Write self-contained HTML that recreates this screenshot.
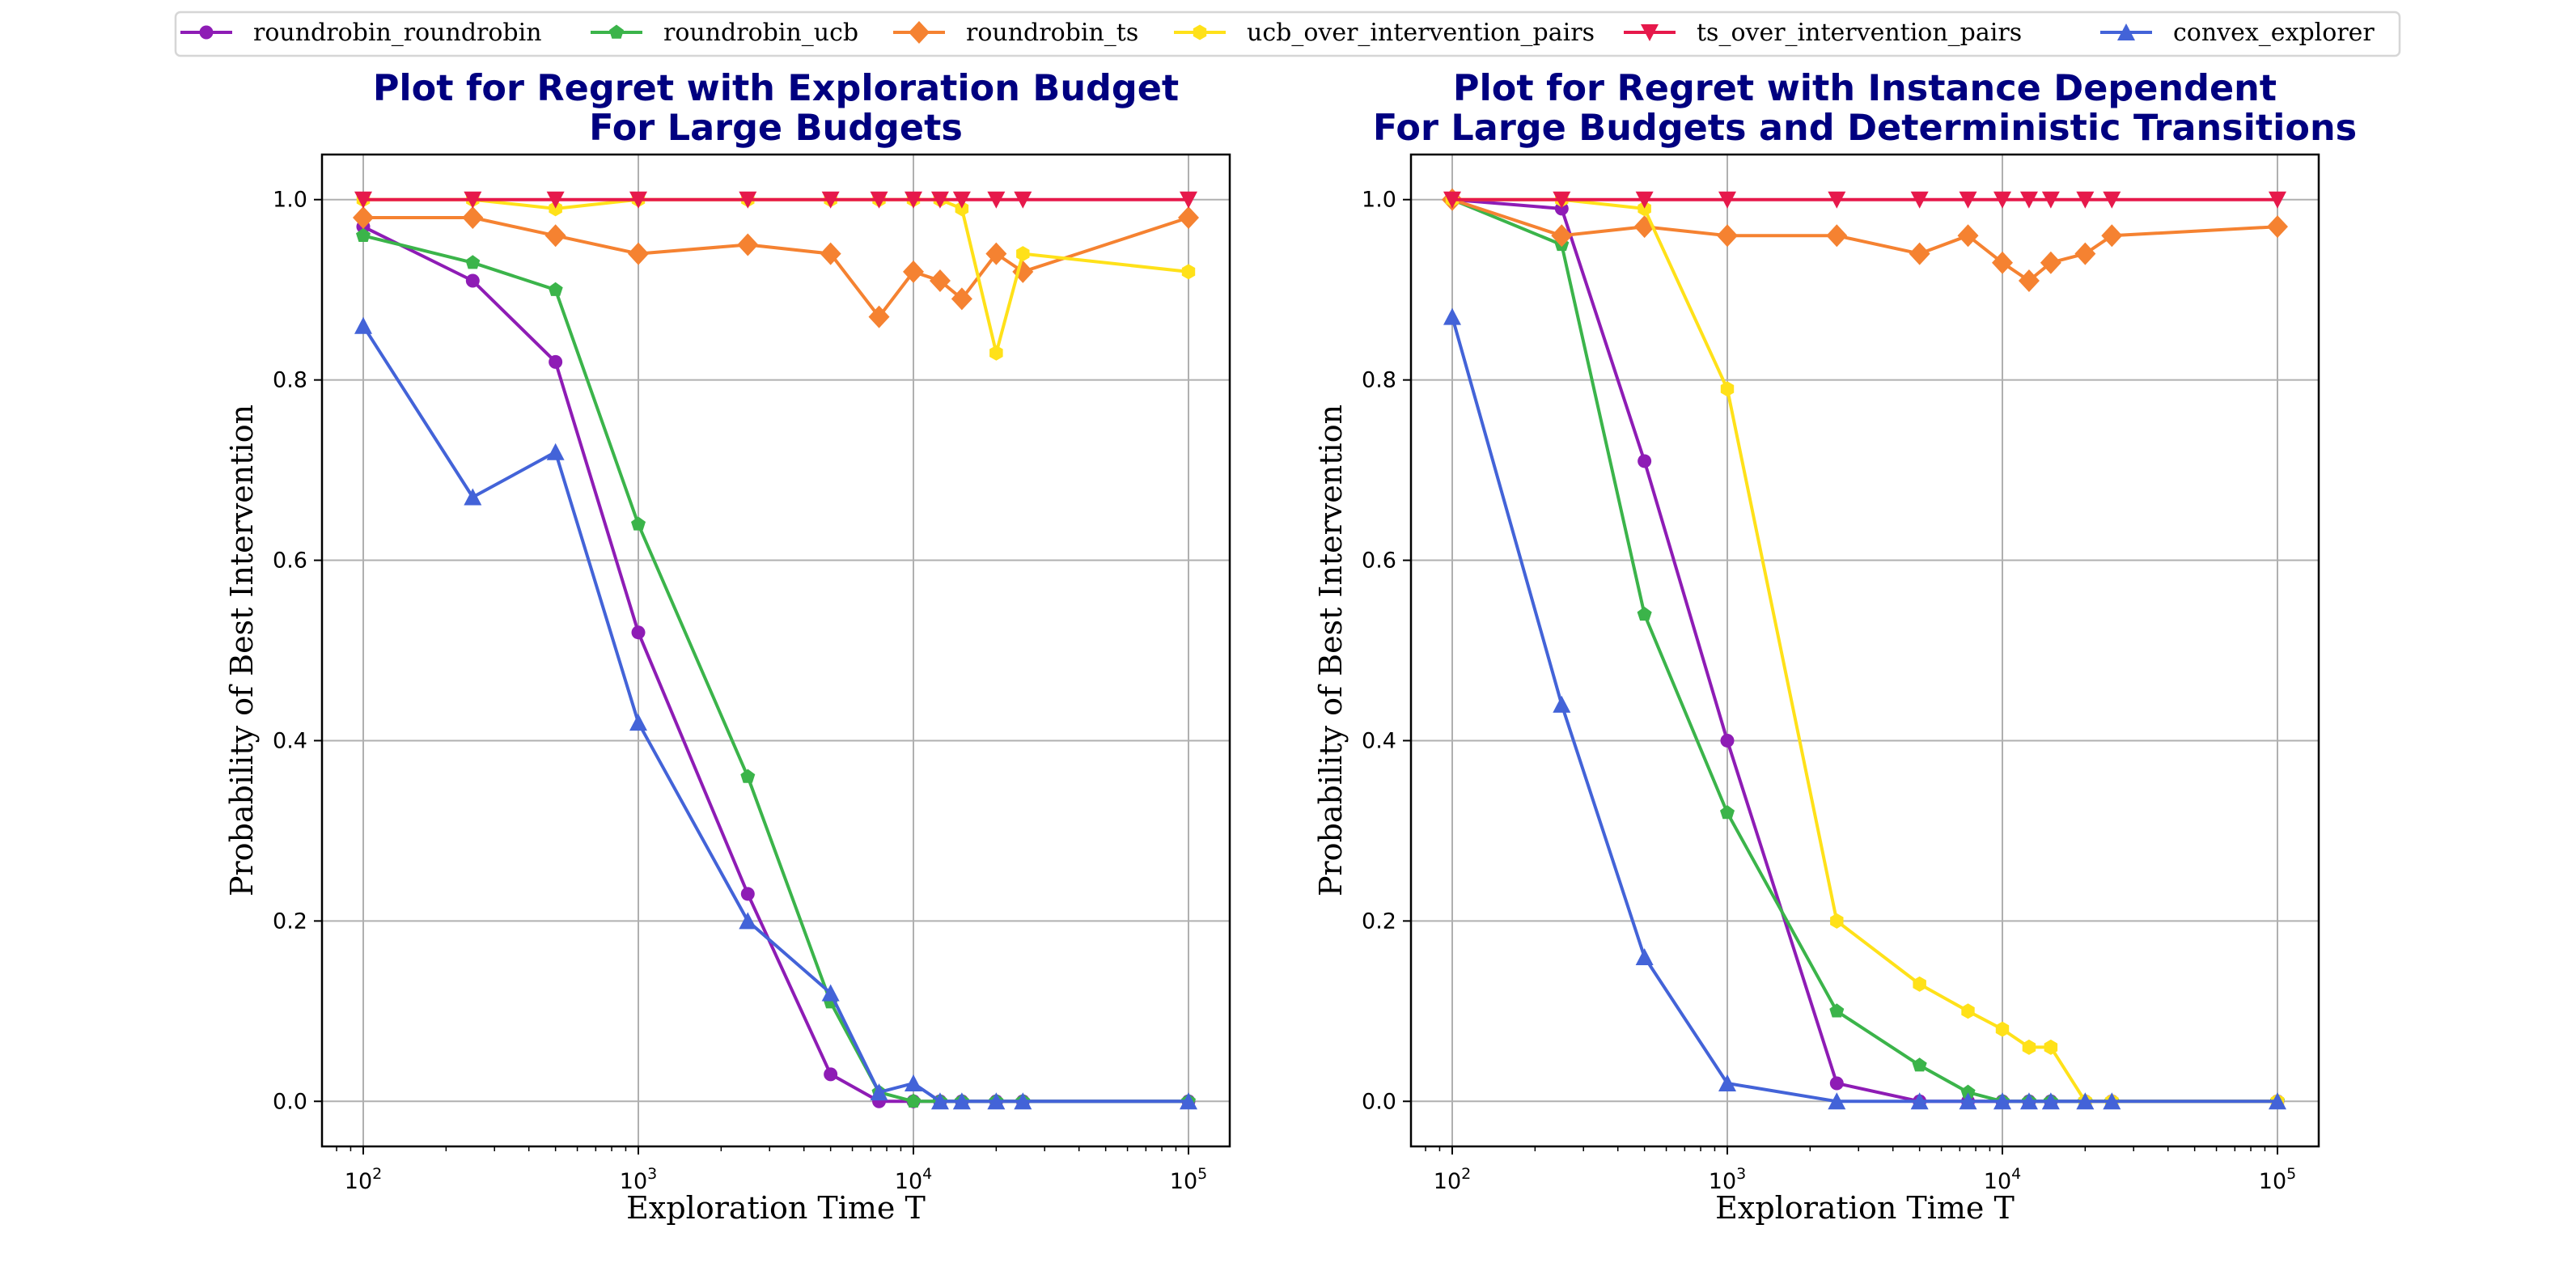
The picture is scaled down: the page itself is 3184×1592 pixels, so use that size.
<!DOCTYPE html>
<html><head><meta charset="utf-8"><style>
html,body{margin:0;padding:0;background:#fff;width:3184px;height:1592px;overflow:hidden}
svg{display:block}
</style></head><body>
<svg id="fig" width="3184" height="1592" xmlns="http://www.w3.org/2000/svg"></svg>
<script>
const xValues=[100,250,500,1000,2500,5000,7500,10000,12500,15000,20000,25000,100000];
const seriesNames=["roundrobin_roundrobin","roundrobin_ucb","roundrobin_ts","ucb_over_intervention_pairs","ts_over_intervention_pairs","convex_explorer"];
const leftRR=[.97,.91,.82,.52,.23,.03,0,0,0,0,0,0,0];
const leftUCB=[.96,.93,.90,.64,.36,.11,.01,0,0,0,0,0,0];
const leftTS=[.98,.98,.96,.94,.95,.94,.87,.92,.91,.89,.94,.92,.98];
const leftUCBPairs=[1,1,.99,1,1,1,1,1,1,.99,.83,.94,.92];
const leftTSPairs=[1,1,1,1,1,1,1,1,1,1,1,1,1];
const leftConvex=[.86,.67,.72,.42,.20,.12,.01,.02,0,0,0,0,0];
const rightRR=[1,.99,.71,.40,.02,0,0,0,0,0,0,0,0];
const rightUCB=[1,.95,.54,.32,.10,.04,.01,0,0,0,0,0,0];
const rightTS=[1,.96,.97,.96,.96,.94,.96,.93,.91,.93,.94,.96,.97];
const rightUCBPairs=[1,1,.99,.79,.20,.13,.10,.08,.06,.06,0,0,0];
const rightTSPairs=[1,1,1,1,1,1,1,1,1,1,1,1,1];
const rightConvex=[.87,.44,.16,.02,0,0,0,0,0,0,0,0,0];
const yTicks=[0,0.2,0.4,0.6,0.8,1.0];
const yTickLabels=["0.0","0.2","0.4","0.6","0.8","1.0"];
const xTickExps=[2,3,4,5];
const titles=[["Plot for Regret with Exploration Budget","For Large Budgets"],["Plot for Regret with Instance Dependent","For Large Budgets and Deterministic Transitions"]];

const colors=["#8E1CB5","#3BB44A","#F58231","#FFE119","#E6194B","#4363D8"];
const markers=["circle","pentagon","diamond","hexagon","tridown","triup"];
const NS="http://www.w3.org/2000/svg";
const svg=document.getElementById('fig');
function el(tag,attrs,parent){const e=document.createElementNS(NS,tag);for(const k in attrs)e.setAttribute(k,attrs[k]);(parent||svg).appendChild(e);return e;}
function poly(n,r,rot,cx,cy){let p=[];for(let i=0;i<n;i++){const a=rot+i*2*Math.PI/n;p.push((cx+r*Math.cos(a)).toFixed(1)+","+(cy+r*Math.sin(a)).toFixed(1));}return p.join(" ");}
function marker(type,cx,cy,color,g){
  let m;
  if(type==="circle")m=el('circle',{cx:cx,cy:cy,r:8.5,fill:color},g);
  else if(type==="pentagon")m=el('polygon',{points:poly(5,9.5,-Math.PI/2,cx,cy),fill:color},g);
  else if(type==="hexagon")m=el('polygon',{points:poly(6,9.5,-Math.PI/2,cx,cy),fill:color},g);
  else if(type==="diamond")m=el('polygon',{points:`${cx},${cy-14} ${cx+13},${cy} ${cx},${cy+14} ${cx-13},${cy}`,fill:color},g);
  else if(type==="tridown")m=el('polygon',{points:`${cx-11},${cy-10} ${cx+11},${cy-10} ${cx},${cy+11}`,fill:color},g);
  else m=el('polygon',{points:`${cx-11},${cy+10} ${cx+11},${cy+10} ${cx},${cy-11}`,fill:color},g);
  return m;
}
const panels=[
 {left:398,right:1520,data:[leftRR,leftUCB,leftTS,leftUCBPairs,leftTSPairs,leftConvex]},
 {left:1744,right:2866,data:[rightRR,rightUCB,rightTS,rightUCBPairs,rightTSPairs,rightConvex]}
];
const axTop=191,axBottom=1417,xmin=1.85,xmax=5.15,ymin=-0.05,ymax=1.05;
panels.forEach((p,pi)=>{
  const g=el('g',{});
  
  
  const xs=v=>p.left+(Math.log10(v)-xmin)/(xmax-xmin)*(p.right-p.left);
  const ys=v=>axBottom-(v-ymin)/(ymax-ymin)*(axBottom-axTop);
  xTickExps.forEach(e=>{const x=xs(Math.pow(10,e));const l=el('line',{x1:x,x2:x,y1:axTop,y2:axBottom,stroke:'#b0b0b0','stroke-width':2},g);});
  yTicks.forEach(v=>{const y=ys(v);const l=el('line',{x1:p.left,x2:p.right,y1:y,y2:y,stroke:'#b0b0b0','stroke-width':2},g);});
  p.data.forEach((arr,si)=>{
    const sg=el('g',{},g);
    
    
    const pts=arr.map((v,i)=>xs(xValues[i]).toFixed(1)+","+ys(v).toFixed(1)).join(" ");
    el('polyline',{points:pts,fill:'none',stroke:colors[si],'stroke-width':4,'stroke-linejoin':'round'},sg);
    arr.forEach((v,i)=>{const m=marker(markers[si],xs(xValues[i]),ys(v),colors[si],sg);});
  });
  const fr=el('rect',{x:p.left,y:axTop,width:p.right-p.left,height:axBottom-axTop,fill:'none',stroke:'#000','stroke-width':2.5},g);
  
  yTicks.forEach((v,i)=>{const y=ys(v);el('line',{x1:p.left-10,x2:p.left,y1:y,y2:y,stroke:'#000','stroke-width':2},g);
    const t=el('text',{x:p.left-18,y:y+9,'text-anchor':'end','font-family':'DejaVu Sans, sans-serif','font-size':27},g);t.textContent=yTickLabels[i];});
  for(let e=1;e<=5;e++){for(let k=1;k<10;k++){const v=k*Math.pow(10,e);const lv=Math.log10(v);if(lv<xmin||lv>xmax)continue;const x=xs(v);
    el('line',{x1:x,x2:x,y1:axBottom,y2:axBottom+(k===1?10:6),stroke:'#000','stroke-width':k===1?2:1.5},g);}}
  xTickExps.forEach(e=>{const x=xs(Math.pow(10,e));const t=el('text',{x:x,y:axBottom+52,'text-anchor':'middle','font-family':'DejaVu Sans, sans-serif','font-size':27},g);
    t.innerHTML='10<tspan dy="-12" font-size="19">'+e+'</tspan>';});
  const cx=(p.left+p.right)/2;
  const xl=el('text',{x:cx,y:1506,'text-anchor':'middle','font-family':'DejaVu Serif, serif','font-size':38},g);xl.textContent='Exploration Time T';
  const yx=p.left-86,yy=(axTop+axBottom)/2;
  const yl=el('text',{x:yx,y:yy,'text-anchor':'middle','font-family':'DejaVu Serif, serif','font-size':38,transform:`rotate(-90 ${yx} ${yy})`},g);yl.textContent='Probability of Best Intervention';
  titles[pi].forEach((s,li)=>{const t=el('text',{x:cx,y:124+li*49,'text-anchor':'middle','font-family':'DejaVu Sans, sans-serif','font-size':44.5,'font-weight':'bold',fill:'#000080'},g);t.textContent=s;});
});
const lg=el('g',{});


el('rect',{x:217,y:15,width:2749,height:54,rx:6,fill:'#fff',stroke:'#d6d6d6','stroke-width':2.5},lg);
const entryTextX=[313,820,1194,1541,2097,2686];
seriesNames.forEach((n,i)=>{
  const eg=el('g',{},lg);
  
  
  const tx=entryTextX[i],x0=tx-90;
  el('line',{x1:x0,x2:x0+64,y1:40,y2:40,stroke:colors[i],'stroke-width':4},eg);
  marker(markers[i],x0+32,40,colors[i],eg);
  const t=el('text',{x:tx,y:50,'font-family':'DejaVu Serif, serif','font-size':30},eg);t.textContent=n;
});
</script>
</body></html>
